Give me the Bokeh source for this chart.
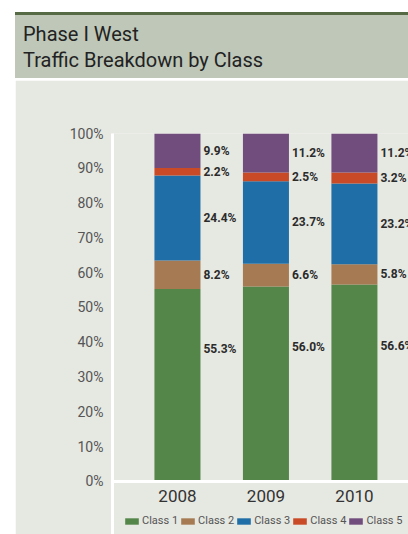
import numpy as np
from bokeh.plotting import figure
from bokeh.models import (ColumnDataSource, Range1d, FixedTicker, PrintfTickFormatter,
                          Legend, Div, Span)
from bokeh.layouts import column
from bokeh.core.properties import value
from bokeh.embed import file_html
from bokeh.resources import INLINE

# ---------------- data ----------------
years = ["2008", "2009", "2010"]
classes = ["Class 1", "Class 2", "Class 3", "Class 4", "Class 5"]
class1 = [55.3, 56.0, 56.6]
class2 = [8.2, 6.6, 5.8]
class3 = [24.4, 23.7, 23.2]
class4 = [2.2, 2.5, 3.2]
class5 = [9.9, 11.2, 11.2]
y_ticks = [0, 10, 20, 30, 40, 50, 60, 70, 80, 90, 100]

title_lines = ["Phase I West", "Traffic Breakdown by Class"]

# ---------------- style ----------------
colors = ["#548649", "#a67b53", "#1f6ea7", "#c94a26", "#714d7d"]
label_frac = [0.69, 0.5, 0.5, 0.5, 0.5]
FONT = "Roboto"
BG = "#e6e8e2"

series = [class1, class2, class3, class4, class5]
keys = ["c1", "c2", "c3", "c4", "c5"]
idx = list(range(len(years)))

data = {"x": idx}
for k, s in zip(keys, series):
    data[k] = s
source = ColumnDataSource(data=data)

p = figure(width=393, height=454, output_backend="svg", toolbar_location=None,
           x_range=Range1d(-0.734, 2.611), y_range=Range1d(-15.23, 100),
           x_axis_location=None,
           min_border_left=97, min_border_right=0, min_border_top=53,
           min_border_bottom=0)
p.margin = (0, 0, 0, 15)
p.background_fill_color = BG
p.border_fill_color = BG
p.outline_line_color = None
p.grid.visible = False

bar_w = 0.52
renderers = p.vbar_stack(keys, x="x", width=bar_w, color=colors, source=source,
                         line_color=None)

# baseline
p.add_layout(Span(location=0, dimension="width", line_color="white", line_width=3))

# category labels
p.text(x=idx, y=[0] * len(idx), text=years, y_offset=15, text_align="center",
       text_baseline="middle", text_font=value(FONT), text_font_size="17px",
       text_color="#333333")

# value labels
bottoms = np.zeros(len(years))
lx, ly, lt = [], [], []
for s, frac in zip(series, label_frac):
    arr = np.array(s)
    for i in idx:
        lx.append(i + bar_w / 2)
        ly.append(bottoms[i] + frac * arr[i])
        lt.append(f"{arr[i]:.1f}%")
    bottoms += arr
p.text(x=lx, y=ly, text=lt, x_offset=3, text_align="left", text_baseline="middle",
       text_font=value(FONT), text_font_size="12px", text_font_style="bold",
       text_color="#2b2b2b")

# y axis
p.yaxis.ticker = FixedTicker(ticks=y_ticks)
p.yaxis.formatter = PrintfTickFormatter(format="%d%%")
p.yaxis.axis_line_color = "white"
p.yaxis.axis_line_width = 3
p.yaxis.major_tick_line_color = None
p.yaxis.minor_tick_line_color = None
p.yaxis.major_label_text_font = FONT
p.yaxis.major_label_text_font_size = "14px"
p.yaxis.major_label_text_color = "#555555"
p.yaxis.major_label_standoff = 3

legend = Legend(items=[(c, [r]) for c, r in zip(classes, renderers)],
                orientation="horizontal", location=(11, 7))
legend.glyph_width = 17
legend.glyph_height = 8
legend.label_standoff = 2
legend.spacing = 1
legend.padding = 2
legend.margin = 0
legend.label_text_font = FONT
legend.label_text_font_size = "11px"
legend.label_text_color = "#555555"
legend.background_fill_alpha = 0
legend.border_line_color = None
p.add_layout(legend, "center")

header_html = (
    '<div style="position:relative;width:408px;height:80px;background:white;">'
    '<div style="position:absolute;left:15px;top:12px;width:393px;height:3px;background:#566b45;"></div>'
    '<div style="position:absolute;left:15px;top:15px;width:393px;height:63px;background:#bec7b8;"></div>'
    f'<div style="position:absolute;left:23px;top:21px;font-family:{FONT};font-size:20px;'
    'line-height:26px;color:#222222;white-space:nowrap;">'
    + "<br>".join(title_lines) +
    '</div></div>'
)
header = Div(text=header_html, width=408, height=80, margin=0)

layout = column(header, p, spacing=0, margin=0)

open("out.html", "w").write(file_html(layout, INLINE))
